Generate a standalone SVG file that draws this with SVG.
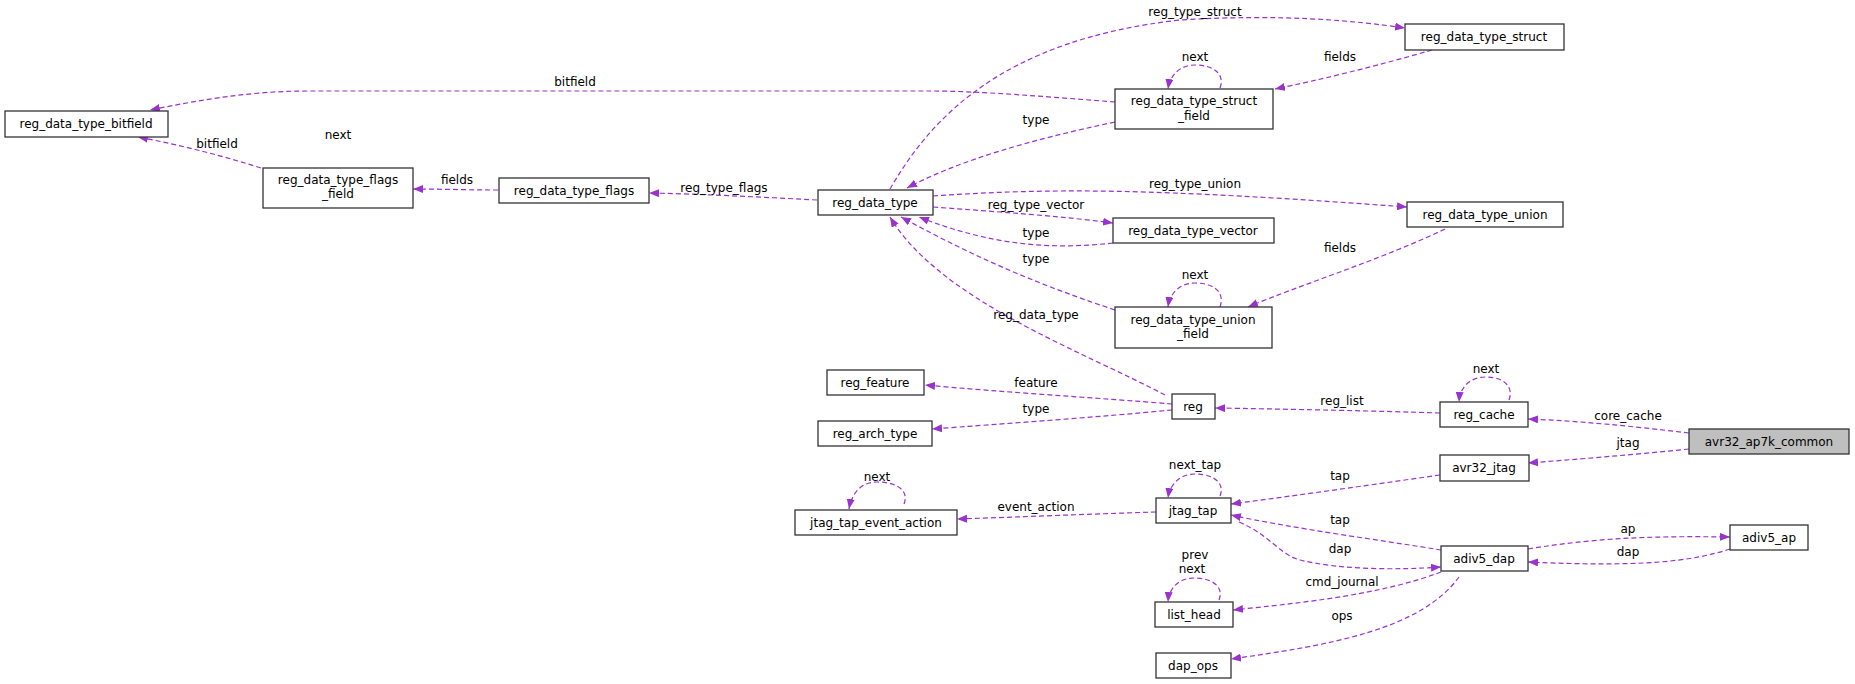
<svg xmlns="http://www.w3.org/2000/svg" width="1855" height="684" viewBox="0 0 1855 684">
<style>
.n rect{fill:#fff;stroke:#333;stroke-width:1.3}
.n text,.l{font-family:"DejaVu Sans",sans-serif;font-size:12px;text-anchor:middle;fill:#000}
.e path{fill:none;stroke:#9a32cd;stroke-width:1.2;stroke-dasharray:5,3;marker-end:url(#a)}
</style>
<defs><marker id="a" markerWidth="10" markerHeight="8" refX="10" refY="4" orient="auto" markerUnits="userSpaceOnUse"><path d="M0,0L10,4L0,8z" fill="#9a32cd"/></marker></defs>
<rect width="1855" height="684" fill="#fff"/>
<g class="e">
<path d="M1115,102 C1050,97 980,91 930,91 L308,91 C250,91 200,100 150,110"/>
<path d="M261,168 C220,155 180,145 138,137"/>
<path d="M498,190 C470,190 440,189 413,189"/>
<path d="M817,200 C760,197 700,194 649,193"/>
<path d="M890,189 C930,120 1000,40 1180,20 C1280,14 1350,20 1405,28"/>
<path d="M1432,50 C1380,65 1320,80 1275,89"/>
<path d="M1220,88 C1225,75 1215,65 1195,65 C1180,65 1170,75 1168,89"/>
<path d="M1115,122 C1030,140 960,160 907,188"/>
<path d="M933,196 C1050,188 1150,188 1407,207"/>
<path d="M933,207 C1000,212 1060,216 1113,223"/>
<path d="M1113,243 C1050,250 990,245 919,217"/>
<path d="M1445,229 C1380,260 1300,285 1248,307"/>
<path d="M1220,307 C1225,293 1215,283 1195,283 C1180,283 1170,293 1168,307"/>
<path d="M1115,310 C1040,285 980,260 901,217"/>
<path d="M1165,395 C1080,350 940,300 890,217"/>
<path d="M1172,404 C1100,398 1000,392 925,385"/>
<path d="M1172,410 C1100,417 1000,424 932,429"/>
<path d="M1440,413 C1380,411 1280,409 1215,408"/>
<path d="M1509,400 C1514,387 1504,377 1486,377 C1470,377 1460,387 1459,402"/>
<path d="M1689,433 C1630,426 1580,421 1528,419"/>
<path d="M1689,449 C1630,455 1580,459 1528,463"/>
<path d="M1440,475 C1370,485 1300,495 1231,504"/>
<path d="M1220,496 C1225,484 1215,474 1195,474 C1180,474 1170,484 1168,498"/>
<path d="M1156,512 C1090,514 1020,517 957,519"/>
<path d="M904,504 C909,492 899,482 877,482 C862,482 852,492 849,509"/>
<path d="M1441,550 C1380,540 1290,528 1231,515"/>
<path d="M1239,522 C1270,535 1280,555 1300,560 C1340,570 1400,570 1441,567"/>
<path d="M1528,549 C1600,537 1660,536 1730,537"/>
<path d="M1730,549 C1690,562 1640,567 1528,562"/>
<path d="M1219,600 C1224,588 1214,578 1194,578 C1179,578 1169,588 1168,602"/>
<path d="M1441,572 C1380,595 1300,603 1233,610"/>
<path d="M1459,577 C1420,630 1330,645 1231,659"/>
</g>
<g id="lbl">
<text class="l" x="575" y="86">bitfield</text>
<text class="l" x="217" y="148">bitfield</text>
<text class="l" x="338" y="139">next</text>
<text class="l" x="457" y="184">fields</text>
<text class="l" x="724" y="192">reg_type_flags</text>
<text class="l" x="1195" y="16">reg_type_struct</text>
<text class="l" x="1195" y="61">next</text>
<text class="l" x="1340" y="61">fields</text>
<text class="l" x="1036" y="124">type</text>
<text class="l" x="1195" y="188">reg_type_union</text>
<text class="l" x="1036" y="209">reg_type_vector</text>
<text class="l" x="1036" y="237">type</text>
<text class="l" x="1036" y="263">type</text>
<text class="l" x="1340" y="252">fields</text>
<text class="l" x="1195" y="279">next</text>
<text class="l" x="1036" y="319">reg_data_type</text>
<text class="l" x="1036" y="387">feature</text>
<text class="l" x="1036" y="413">type</text>
<text class="l" x="1486" y="373">next</text>
<text class="l" x="1342" y="405">reg_list</text>
<text class="l" x="1628" y="420">core_cache</text>
<text class="l" x="1628" y="447">jtag</text>
<text class="l" x="1195" y="469">next_tap</text>
<text class="l" x="877" y="481">next</text>
<text class="l" x="1340" y="480">tap</text>
<text class="l" x="1036" y="511">event_action</text>
<text class="l" x="1340" y="524">tap</text>
<text class="l" x="1628" y="533">ap</text>
<text class="l" x="1340" y="553">dap</text>
<text class="l" x="1628" y="556">dap</text>
<text class="l" x="1195" y="559">prev</text>
<text class="l" x="1192" y="573">next</text>
<text class="l" x="1342" y="586">cmd_journal</text>
<text class="l" x="1342" y="620">ops</text>
</g>
<g id="reg_data_type_bitfield" class="n"><rect x="5" y="111" width="163" height="26"/><text x="86" y="128">reg_data_type_bitfield</text></g>
<g id="reg_data_type_flags_field" class="n"><rect x="263" y="168" width="150" height="40"/><text x="338" y="184">reg_data_type_flags</text><text x="338" y="198">_field</text></g>
<g id="reg_data_type_flags" class="n"><rect x="499" y="178" width="150" height="25"/><text x="574" y="195">reg_data_type_flags</text></g>
<g id="reg_data_type" class="n"><rect x="818" y="190" width="115" height="25"/><text x="875" y="207">reg_data_type</text></g>
<g id="reg_data_type_struct" class="n"><rect x="1405" y="24" width="159" height="26"/><text x="1484" y="41">reg_data_type_struct</text></g>
<g id="reg_data_type_struct_field" class="n"><rect x="1115" y="89" width="158" height="40"/><text x="1194" y="105">reg_data_type_struct</text><text x="1194" y="120">_field</text></g>
<g id="reg_data_type_union" class="n"><rect x="1407" y="202" width="156" height="25"/><text x="1485" y="219">reg_data_type_union</text></g>
<g id="reg_data_type_vector" class="n"><rect x="1113" y="218" width="161" height="25"/><text x="1193" y="235">reg_data_type_vector</text></g>
<g id="reg_data_type_union_field" class="n"><rect x="1115" y="307" width="157" height="41"/><text x="1193" y="324">reg_data_type_union</text><text x="1193" y="338">_field</text></g>
<g id="reg_feature" class="n"><rect x="827" y="370" width="97" height="25"/><text x="875" y="387">reg_feature</text></g>
<g id="reg_arch_type" class="n"><rect x="818" y="421" width="114" height="25"/><text x="875" y="438">reg_arch_type</text></g>
<g id="jtag_tap_event_action" class="n"><rect x="795" y="510" width="162" height="25"/><text x="876" y="527">jtag_tap_event_action</text></g>
<g id="reg" class="n"><rect x="1172" y="394" width="43" height="25"/><text x="1193" y="411">reg</text></g>
<g id="reg_cache" class="n"><rect x="1440" y="402" width="88" height="25"/><text x="1484" y="419">reg_cache</text></g>
<g id="avr32_ap7k_common" class="n"><rect x="1689" y="429" width="160" height="25" style="fill:#bfbfbf"/><text x="1769" y="446">avr32_ap7k_common</text></g>
<g id="avr32_jtag" class="n"><rect x="1440" y="455" width="89" height="26"/><text x="1484" y="472">avr32_jtag</text></g>
<g id="jtag_tap" class="n"><rect x="1156" y="498" width="75" height="25"/><text x="1193" y="515">jtag_tap</text></g>
<g id="adiv5_ap" class="n"><rect x="1730" y="525" width="78" height="25"/><text x="1769" y="542">adiv5_ap</text></g>
<g id="adiv5_dap" class="n"><rect x="1441" y="546" width="87" height="25"/><text x="1484" y="563">adiv5_dap</text></g>
<g id="list_head" class="n"><rect x="1155" y="602" width="78" height="25"/><text x="1194" y="619">list_head</text></g>
<g id="dap_ops" class="n"><rect x="1156" y="653" width="75" height="25"/><text x="1193" y="670">dap_ops</text></g>
</svg>
